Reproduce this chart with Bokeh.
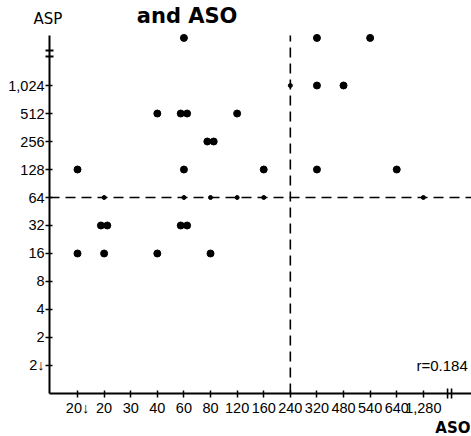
from bokeh.plotting import figure
from bokeh.models import Range1d, FixedTicker, Label, ColumnDataSource
from bokeh.embed import file_html
from bokeh.resources import INLINE

# ---- data -------------------------------------------------------------
aso_labels = ["20↓", "20", "30", "40", "60", "80", "120", "160", "240",
              "320", "480", "540", "640", "1,280"]
asp_labels = ["2↓", "2", "4", "8", "16", "32", "64", "128", "256", "512",
              "1,024", "≥2,048"]          # last one sits above the axis break

pts_aso = ["20↓", "20↓", "20", "20", "20", "20",
           "40", "40",
           "60", "60", "60", "60", "60", "60", "60",
           "80", "80", "80", "80",
           "120", "120", "160", "160",
           "240",
           "320", "320", "320",
           "480", "540", "640", "1,280"]
pts_asp = ["128", "16", "16", "32", "32", "64",
           "512", "16",
           "≥2,048", "512", "512", "128", "32", "32", "64",
           "256", "256", "16", "64",
           "512", "64", "128", "64",
           "1,024",
           "≥2,048", "1,024", "128",
           "1,024", "≥2,048", "128", "64"]

aso_cutoff = "240"
asp_cutoff = "64"
r_text = "r=0.184"
title_text = "and ASO"
x_title = "ASO"
y_title = "ASP"

# ---- layout -----------------------------------------------------------
BREAK_GAP = 0.7          # extra room above the y-axis break
X0, X1 = -2.895, 14.81   # data range covering the whole canvas
Y0, Y1 = -2.536, 13.036
XAX = -1.0526            # where the y axis sits (data x)
YAX = -1.0               # where the x axis sits (data y)
YTOP = 11.79             # top end of the y axis line


def ypos(lab):
    i = asp_labels.index(lab)
    return i + BREAK_GAP if i >= 11 else i


xs, ys, sizes = [], [], []
seen = {}
pairs = list(zip(pts_aso, pts_asp))
for a, b in pairs:
    key = (a, b)
    n_total = pairs.count(key)
    k = seen.get(key, 0)
    seen[key] = k + 1
    dodge = (k - (n_total - 1) / 2) * 0.24
    xs.append(aso_labels.index(a) + dodge)
    ys.append(ypos(b))
    sizes.append(4 if (b == asp_cutoff or a == aso_cutoff) else 7)

src = ColumnDataSource(dict(x=xs, y=ys, s=sizes))

W, H = 471, 436
p = figure(width=W, height=H, output_backend="svg", toolbar_location=None,
           x_range=Range1d(X0, X1), y_range=Range1d(Y0, Y1),
           min_border=0, min_border_left=0, min_border_right=0,
           min_border_top=0, min_border_bottom=0)
p.title.visible = False
p.outline_line_color = None
p.grid.visible = False
p.background_fill_color = "white"
p.border_fill_color = "white"

TICK_FONT = "Liberation Sans"

p.xaxis.fixed_location = YAX
p.yaxis.fixed_location = XAX
p.xaxis.bounds = (XAX, X1)
p.yaxis.bounds = (YAX, YTOP)
p.xaxis.ticker = FixedTicker(ticks=list(range(len(aso_labels))))
p.xaxis.major_label_overrides = {i: l for i, l in enumerate(aso_labels)}
p.yaxis.ticker = FixedTicker(ticks=list(range(11)))
p.yaxis.major_label_overrides = {i: l for i, l in enumerate(asp_labels[:11])}
for ax in (p.xaxis, p.yaxis):
    ax.axis_line_width = 2
    ax.axis_line_color = "black"
    ax.major_tick_line_width = 1.5
    ax.major_tick_line_color = "black"
    ax.major_tick_in = 3
    ax.major_tick_out = 4
    ax.minor_tick_line_color = None
    ax.major_label_text_font = TICK_FONT
    ax.major_label_text_font_size = "14.5px"
    ax.major_label_text_color = "black"
p.xaxis.major_label_standoff = 3
p.yaxis.major_label_standoff = 1

# cut-off lines (dashed)
yc = asp_labels.index(asp_cutoff)
xc = aso_labels.index(aso_cutoff)
p.segment(x0=[XAX], y0=[yc], x1=[X1], y1=[yc], line_color="black",
          line_width=1.6, line_dash="10 6")
p.segment(x0=[xc], y0=[YAX], x1=[xc], y1=[YTOP], line_color="black",
          line_width=1.6, line_dash="10 6")

p.scatter("x", "y", size="s", source=src, fill_color="black",
          line_color="black")

# axis break marks
p.segment(x0=[XAX - 0.15, XAX - 0.15], y0=[11.04, 11.25],
          x1=[XAX + 0.15, XAX + 0.15], y1=[11.04, 11.25],
          line_color="black", line_width=2)
p.segment(x0=[13.91, 14.06], y0=[YAX + 0.18, YAX + 0.18],
          x1=[13.91, 14.06], y1=[YAX - 0.18, YAX - 0.18],
          line_color="black", line_width=1.6)

# texts
p.add_layout(Label(x=4.12, y=12.48, text=title_text, text_align="center",
                   text_baseline="middle", text_font="DejaVu Sans",
                   text_font_style="bold", text_font_size="21px",
                   text_color="black"))
p.add_layout(Label(x=-1.11, y=12.36, text=y_title, text_align="center",
                   text_baseline="middle", text_font="DejaVu Sans",
                   text_font_size="15px", text_color="black"))
p.add_layout(Label(x=14.77, y=-2.23, text=x_title, text_align="right",
                   text_baseline="middle", text_font="DejaVu Sans",
                   text_font_style="bold", text_font_size="15px",
                   text_color="black"))
p.add_layout(Label(x=12.74, y=0.0, text=r_text, text_align="left",
                   text_baseline="middle", text_font=TICK_FONT,
                   text_font_size="15px", text_color="black"))

open("out.html", "w").write(file_html(p, INLINE))
